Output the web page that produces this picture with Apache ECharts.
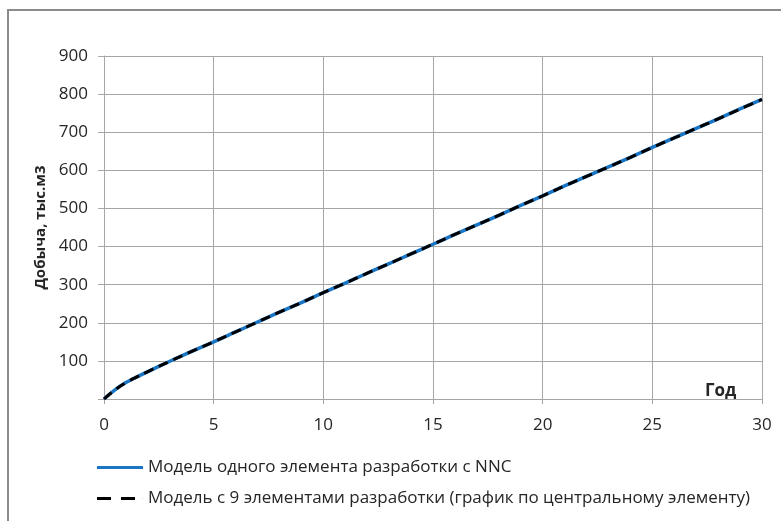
<!DOCTYPE html>
<html>
<head>
<meta charset="utf-8">
<script src="https://cdn.jsdelivr.net/npm/echarts@6/dist/echarts.min.js"></script>
<style>
  html, body { margin: 0; padding: 0; background: #ffffff; }
  #chart { width: 781px; height: 521px; }
</style>
</head>
<body>
<div id="chart"></div>
<script>
// Years of production
const years = [0, 0.5, 1, 1.5, 2, 3, 4, 5, 6, 7, 8, 9, 10, 11, 12, 13, 14, 15,
  16, 17, 18, 19, 20, 21, 22, 23, 24, 25, 26, 27, 28, 29, 30];

// Cumulative production, thousand m3 — single element with NNC
const singleElement = [0, 24, 43, 58, 72, 99, 125, 150, 176, 202, 228, 253, 279, 304, 330, 355, 381, 406,
  432, 457, 482, 508, 533, 559, 584, 609, 634, 660, 685, 710, 735, 761, 786];

// Cumulative production, thousand m3 — 9-element model, central element
const nineElements = [0, 24, 43, 58, 72, 99, 125, 150, 176, 202, 228, 253, 279, 304, 330, 355, 381, 406,
  432, 457, 482, 508, 533, 559, 584, 609, 634, 660, 685, 710, 735, 761, 786];

const seriesNames = [
  'Модель одного элемента разработки с NNC',
  'Модель с 9 элементами разработки (график по центральному элементу)'
];

const font = '"Open Sans", "DejaVu Sans", sans-serif';
const textColor = '#262626';
const gridColor = '#a6a6a6';
const blue = '#1a75c4';

// Legend keys: a solid bar and two dashes (with a hairline anchor at the far end
// so the dashed key keeps the same width as the solid one)
const solidKey = 'path://M0,0H46V3H0Z';
const dashedKey = 'path://M0,0H14V3H0Z M24,0H38V3H24Z M45.95,0H46V3H45.95Z';

const pairs = arr => years.map((t, i) => [t, arr[i]]);

const chart = echarts.init(document.getElementById('chart'), null, { renderer: 'canvas' });

chart.setOption({
  animation: false,
  backgroundColor: '#ffffff',
  textStyle: { fontFamily: font, color: textColor },
  grid: { left: 104, right: 19, top: 56, bottom: 122, containLabel: false },
  xAxis: {
    type: 'value',
    min: 0, max: 30, interval: 5,
    axisLine: { show: true, lineStyle: { color: gridColor, width: 1 } },
    axisTick: { show: true, length: 5, lineStyle: { color: gridColor } },
    axisLabel: { fontSize: 17, color: textColor, margin: 18, fontFamily: font },
    splitLine: { show: true, lineStyle: { color: gridColor, width: 1 } }
  },
  yAxis: {
    type: 'value',
    min: 0, max: 900, interval: 100,
    name: 'Добыча, тыс.м3',
    nameLocation: 'middle',
    nameGap: 50,
    nameTextStyle: { fontSize: 15, fontWeight: 'bold', color: textColor, fontFamily: font },
    axisLine: { show: true, lineStyle: { color: gridColor, width: 1 } },
    axisTick: { show: true, length: 6, lineStyle: { color: gridColor } },
    axisLabel: {
      fontSize: 17, color: textColor, margin: 16, fontFamily: font,
      formatter: v => (v === 0 ? '' : String(v))
    },
    splitLine: { show: true, lineStyle: { color: gridColor, width: 1 } }
  },
  legend: {
    orient: 'vertical',
    left: 97,
    top: 459,
    padding: 0,
    itemWidth: 46,
    itemHeight: 3,
    itemGap: 14,
    textStyle: { fontSize: 17, color: textColor, fontFamily: font },
    data: [
      { name: seriesNames[0], icon: solidKey, itemStyle: { color: blue } },
      { name: seriesNames[1], icon: dashedKey, itemStyle: { color: '#000000' } }
    ]
  },
  graphic: [
    {
      type: 'rect',
      shape: { x: 8, y: 10, width: 800, height: 540 },
      style: { fill: 'none', stroke: '#8c8c8c', lineWidth: 2 },
      silent: true
    },
    {
      type: 'text',
      left: 705,
      top: 383,
      style: { text: 'Год', font: 'bold 17px ' + font, fill: textColor }
    }
  ],
  series: [
    {
      name: seriesNames[0],
      type: 'line',
      data: pairs(singleElement),
      smooth: 0.4,
      showSymbol: false,
      symbol: 'none',
      lineStyle: { color: blue, width: 3.5 },
      itemStyle: { color: blue }
    },
    {
      name: seriesNames[1],
      type: 'line',
      data: pairs(nineElements),
      smooth: 0.4,
      showSymbol: false,
      symbol: 'none',
      lineStyle: { color: '#000000', width: 3, type: [10, 6] },
      itemStyle: { color: '#000000' }
    }
  ]
});
</script>
</body>
</html>
